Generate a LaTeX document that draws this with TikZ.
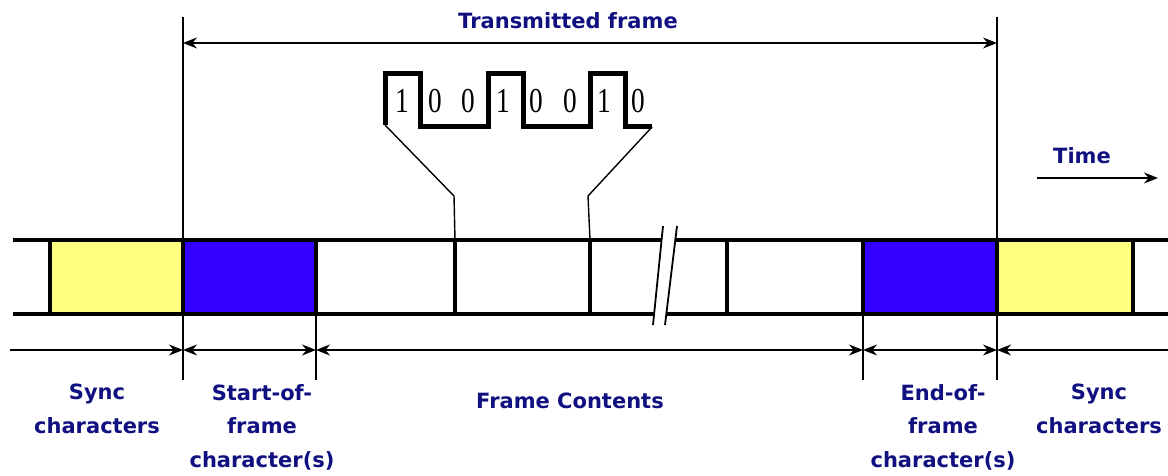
\documentclass[tikz,border=0pt]{standalone}
\usepackage{fontspec}
\setmainfont{Liberation Serif}
\newfontfamily\lblfont{DejaVu Sans}
\usetikzlibrary{arrows.meta}
\definecolor{lblblue}{RGB}{16,16,128}
\definecolor{syncyellow}{RGB}{255,255,128}
\definecolor{frameblue}{RGB}{51,0,255}
\newcommand\narrowdigit[1]{\scalebox{0.78}[1]{#1}}
\begin{document}
\begin{tikzpicture}[x=1pt,y=-1pt,
  >={Stealth[length=14pt,width=11pt]},
  lbl/.style={font=\lblfont\bfseries\fontsize{21}{33.5}\selectfont, text=lblblue, align=center, inner sep=0pt},
  digit/.style={font=\fontsize{35}{35}\selectfont, inner sep=0pt},
  bandline/.style={line width=4pt},
  cell/.style={draw, line width=4pt, minimum height=74pt, inner sep=0pt, outer sep=0pt},
  thinline/.style={line width=1.4pt},
  wave/.style={line width=5pt, line join=miter}
]
\useasboundingbox (0,0) rectangle (1168,476);

% band lines
\draw[bandline] (13,240) -- (662,240);
\draw[bandline] (675,240) -- (1168,240);
\draw[bandline] (13,314) -- (654,314);
\draw[bandline] (666,314) -- (1168,314);
\draw[line width=1.8pt] (663,226) -- (653,325);
\draw[line width=1.8pt] (677,226) -- (665,325);

% cells
\node[cell, fill=syncyellow, minimum width=133pt] (sync1) at (116.5,277) {};
\node[cell, fill=frameblue, minimum width=133pt] (sof) at (249.5,277) {};
\node[cell, minimum width=139pt] (c1) at (385.5,277) {};
\node[cell, minimum width=135pt] (c2) at (522.5,277) {};
\node[cell, minimum width=136pt] (c4) at (795,277) {};
\node[cell, fill=frameblue, minimum width=134pt] (eof) at (930,277) {};
\node[cell, fill=syncyellow, minimum width=136pt] (sync2) at (1065,277) {};
\draw[bandline] (c2.north east) -- (c2.south east);

% square wave
\coordinate (ws) at (385,125);
\coordinate (we) at (652,127);
\draw[wave] (ws) -- (385,74) -- (420,74) -- (420,127) -- (488,127) -- (488,74)
  -- (523,74) -- (523,127) -- (590,127) -- (590,74) -- (625,74) -- (625,127) -- (we);
\node[digit] (b1) at (402,101) {\narrowdigit{1}};
\node[digit] (b2) at (435,101) {\narrowdigit{0}};
\node[digit] (b3) at (468,101) {\narrowdigit{0}};
\node[digit] (b4) at (503,101) {\narrowdigit{1}};
\node[digit] (b5) at (536,101) {\narrowdigit{0}};
\node[digit] (b6) at (570,101) {\narrowdigit{0}};
\node[digit] (b7) at (604,101) {\narrowdigit{1}};
\node[digit] (b8) at (638,101) {\narrowdigit{0}};

% zoom connectors
\draw[thinline] (c2.north west) -- ++(-1,-44) coordinate (zl) -- (ws);
\draw[thinline] (c2.north east) -- ++(-2,-44) coordinate (zr) -- (we);

% extension lines
\coordinate (ttl) at (183,17);
\coordinate (ttr) at (997,17);
\coordinate (bbl) at (183,380);
\coordinate (bbm1) at (316,380);
\coordinate (bbm2) at (863,380);
\coordinate (bbr) at (997,380);
\draw[thinline] (ttl) -- (sof.north west);
\draw[thinline] (ttr) -- (eof.north east);
\draw[thinline] (sof.south west) -- (bbl);
\draw[thinline] (sof.south east) -- (bbm1);
\draw[thinline] (eof.south west) -- (bbm2);
\draw[thinline] (eof.south east) -- (bbr);

% transmitted frame arrow
\coordinate (ta) at (183,43);
\coordinate (tb) at (997,43);
\draw[thinline, <->] (ta) -- (tb);

% dimension line
\coordinate (d0) at (10,350);
\coordinate (d1) at (183,350);
\coordinate (d2) at (316,350);
\coordinate (d3) at (863,350);
\coordinate (d4) at (997,350);
\coordinate (d5) at (1168,350);
\draw[thinline, ->] (d0) -- (d1);
\draw[thinline, <->] (d1) -- (d2);
\draw[thinline, <->] (d2) -- (d3);
\draw[thinline, <->] (d3) -- (d4);
\draw[thinline, <-] (d4) -- (d5);

% time arrow
\coordinate (tm0) at (1037,178);
\coordinate (tm1) at (1158,178);
\draw[thinline, ->] (tm0) -- (tm1);

% labels
\node[lbl] (tf) at (568,21) {Transmitted frame};
\node[lbl] (time) at (1082,156) {Time};
\node[lbl, anchor=north] (syncl) at (97,384) {Sync\\characters};
\node[lbl, anchor=north] (sofl) at (262,384) {Start-of-\\frame\\character(s)};
\node[lbl] (fcl) at (570,401) {Frame Contents};
\node[lbl, anchor=north] (eofl) at (943,384) {End-of-\\frame\\character(s)};
\node[lbl, anchor=north] (syncr) at (1099,384) {Sync\\characters};
\end{tikzpicture}
\end{document}
